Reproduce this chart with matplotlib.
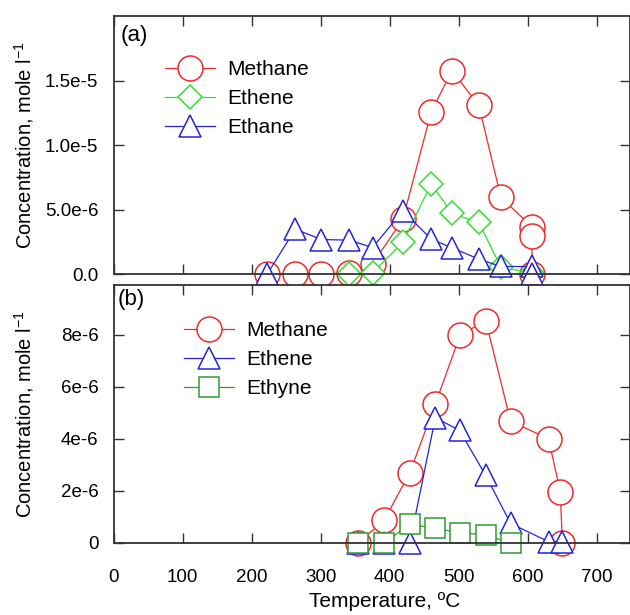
import numpy as np
import matplotlib
matplotlib.use('Agg')
import matplotlib.pyplot as plt

plt.rcParams['font.family'] = ['Liberation Sans', 'DejaVu Sans']
plt.rcParams['mathtext.fontset'] = 'custom'
plt.rcParams['mathtext.rm'] = 'Liberation Sans'

# (a) 数据
temp_a_methane = [222, 263, 300, 341, 375, 419, 460, 490, 529, 561, 606, 606, 606]
methane_a = [0, 0, 0, 0.15e-6, 0.8e-6, 4.3e-6, 1.26e-5, 1.58e-5, 1.31e-5, 5.97e-6, 3.7e-6, 3.0e-6, 0]
temp_a_ethene = [341, 375, 419, 460, 490, 529, 561, 606]
ethene_a = [0, 0.15e-6, 2.48e-6, 7.05e-6, 4.73e-6, 4.03e-6, 0.55e-6, 0.15e-6]
temp_a_ethane = [222, 263, 301, 341, 375, 419, 460, 490, 529, 561, 606, 606]
ethane_a = [0, 3.51e-6, 2.71e-6, 2.66e-6, 2.09e-6, 4.94e-6, 2.74e-6, 2.07e-6, 1.19e-6, 0.62e-6, 0.62e-6, 0]

# (b) 数据
temp_b_methane = [354, 392, 429, 466, 502, 539, 575, 630, 647, 650]
methane_b = [0, 0.88e-6, 2.7e-6, 5.34e-6, 7.98e-6, 8.53e-6, 4.67e-6, 4.0e-6, 1.96e-6, 0]
temp_b_ethene = [354, 392, 429, 466, 501, 539, 575, 630, 650]
ethene_b = [0, 0, 0, 4.81e-6, 4.32e-6, 2.59e-6, 0.75e-6, 0.05e-6, 0.05e-6]
temp_b_ethyne = [354, 392, 429, 466, 502, 539, 575]
ethyne_b = [0, 0, 0.72e-6, 0.56e-6, 0.39e-6, 0.31e-6, 0]

red = '#ee2a2a'
green = '#33dd33'
blue = '#2323dd'
dgreen = '#339933'

fig = plt.figure(figsize=(6.3, 6.15), dpi=100)
ax1 = fig.add_axes([0.1805, 0.5537, 0.8195, 0.4195])
ax2 = fig.add_axes([0.1805, 0.1171, 0.8195, 0.4195])

kw = dict(lw=0.9, mfc='white', mew=1.1, clip_on=False)
ax1.plot(temp_a_methane, methane_a, '-o', color=red, ms=18, label='Methane', **kw)
ax1.plot(temp_a_ethene, ethene_a, '-D', color=green, ms=12.5, label='Ethene', **kw)
ax1.plot(temp_a_ethane, ethane_a, '-^', color=blue, ms=16.5, label='Ethane', **kw)

ax2.plot(temp_b_methane, methane_b, '-o', color=red, ms=18, label='Methane', **kw)
ax2.plot(temp_b_ethene, ethene_b, '-^', color=blue, ms=16.5, label='Ethene', **kw)
ax2.plot(temp_b_ethyne, ethyne_b, '-s', color=dgreen, ms=14.5, label='Ethyne', **kw)

for ax in (ax1, ax2):
    ax.set_xlim(0, 748)
    ax.set_xticks(range(0, 800, 100))
    ax.tick_params(direction='in', length=7, width=1, top=True, right=True,
                   labelsize=13.5, colors='#333333', labelcolor='black')
    ax.tick_params(axis='x', pad=19)
    ax.tick_params(axis='y', pad=11)
    for s in ax.spines.values():
        s.set_color('#333333')
        s.set_linewidth(1.3)
    ax.set_ylabel('Concentration, mole l$^{\\mathrm{-1}}$', fontsize=14.5)
    ax.yaxis.set_label_coords(-0.15, 0.5)

ax1.set_ylim(0, 2e-5)
ax1.set_yticks([0, 5e-6, 1e-5, 1.5e-5])
ax1.set_yticklabels(['0.0', '5.0e-6', '1.0e-5', '1.5e-5'])
ax1.tick_params(axis='x', labelbottom=False)

ax2.set_ylim(0, 9.9e-6)
ax2.set_yticks([0, 2e-6, 4e-6, 6e-6, 8e-6])
ax2.set_yticklabels(['0', '2e-6', '4e-6', '6e-6', '8e-6'])
ax2.set_xlabel('Temperature, ºC', fontsize=15)
ax2.xaxis.set_label_coords(0.525, -0.19)

ax1.text(0.014, 0.928, '(a)', transform=ax1.transAxes, fontsize=16, va='center')
ax2.text(0.008, 0.942, '(b)', transform=ax2.transAxes, fontsize=16, va='center')

leg_kw = dict(frameon=False, fontsize=15, handlelength=2.4, handletextpad=0.6,
              labelspacing=0.48, borderpad=0, loc='upper left')
ax1.legend(bbox_to_anchor=(0.079, 0.872), **leg_kw)
ax2.legend(bbox_to_anchor=(0.116, 0.9), **leg_kw)

fig.savefig('out.png', dpi=100)
